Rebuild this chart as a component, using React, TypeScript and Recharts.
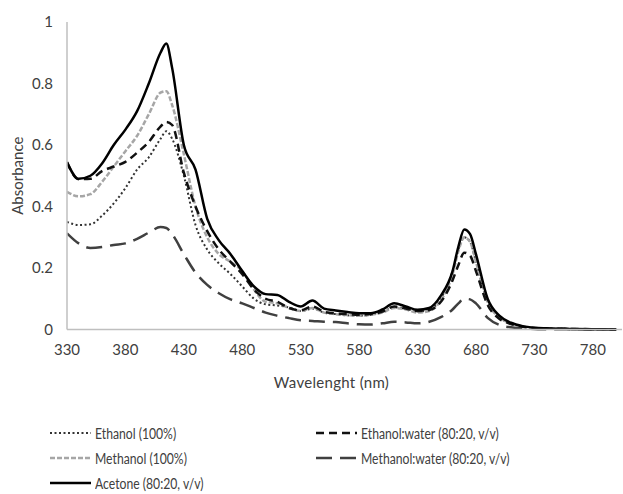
import { Line, LineChart, XAxis, YAxis } from "recharts";

const wavelengths = [
  330, 340, 350, 360, 370, 380, 390, 400, 410, 415, 420, 430, 440, 450, 460,
  470, 480, 490, 500, 510, 520, 530, 540, 550, 560, 570, 580, 590, 600, 610,
  620, 630, 640, 650, 660, 665, 670, 675, 680, 690, 700, 710, 720, 730, 740,
  760, 780, 800,
];

const ethanol = [
  0.35, 0.34, 0.342, 0.37, 0.41, 0.46, 0.52, 0.56, 0.62, 0.645, 0.62, 0.5,
  0.34, 0.26, 0.215, 0.18, 0.14, 0.1, 0.082, 0.078, 0.072, 0.06, 0.068, 0.055,
  0.05, 0.046, 0.045, 0.048, 0.058, 0.072, 0.068, 0.058, 0.065, 0.1, 0.19,
  0.26, 0.3, 0.285, 0.22, 0.09, 0.04, 0.02, 0.01, 0.005, 0.003, 0.002, 0.001, 0,
];

const ethanolWater = [
  0.543, 0.489, 0.49, 0.515, 0.53, 0.545, 0.575, 0.61, 0.66, 0.675, 0.665, 0.51,
  0.4, 0.32, 0.26, 0.22, 0.18, 0.13, 0.1, 0.09, 0.07, 0.062, 0.075, 0.058,
  0.052, 0.05, 0.048, 0.05, 0.058, 0.075, 0.068, 0.06, 0.063, 0.09, 0.16, 0.21,
  0.25, 0.24, 0.19, 0.08, 0.035, 0.018, 0.009, 0.005, 0.003, 0.002, 0.001, 0,
];

const methanol = [
  0.448, 0.433, 0.44, 0.48, 0.53, 0.58, 0.63, 0.7, 0.77, 0.775, 0.73, 0.57, 0.4,
  0.3, 0.245, 0.22, 0.19, 0.13, 0.09, 0.085, 0.07, 0.06, 0.07, 0.055, 0.05,
  0.047, 0.045, 0.048, 0.055, 0.07, 0.065, 0.055, 0.06, 0.095, 0.18, 0.255, 0.3,
  0.285, 0.22, 0.09, 0.04, 0.02, 0.01, 0.005, 0.003, 0.002, 0.001, 0,
];

const methanolWater = [
  0.313, 0.28, 0.265, 0.268, 0.275, 0.28, 0.295, 0.315, 0.333, 0.33, 0.31,
  0.245, 0.185, 0.145, 0.118, 0.098, 0.085, 0.07, 0.055, 0.045, 0.037, 0.03,
  0.028, 0.025, 0.024, 0.02, 0.017, 0.016, 0.02, 0.025, 0.023, 0.02, 0.025,
  0.04, 0.065, 0.085, 0.1, 0.098, 0.085, 0.038, 0.015, 0.007, 0.004, 0.002,
  0.001, 0.001, 0, 0,
];

const acetone = [
  0.545, 0.49, 0.5, 0.54, 0.6, 0.65, 0.71, 0.8, 0.9, 0.93, 0.85, 0.6, 0.52,
  0.36, 0.29, 0.245, 0.19, 0.14, 0.115, 0.112, 0.09, 0.075, 0.094, 0.068,
  0.062, 0.057, 0.053, 0.053, 0.065, 0.085, 0.075, 0.064, 0.07, 0.11, 0.19,
  0.27, 0.325, 0.31, 0.245, 0.1, 0.045, 0.022, 0.011, 0.006, 0.004, 0.002,
  0.001, 0,
];

const xTicks = [330, 380, 430, 480, 530, 580, 630, 680, 730, 780];
const yTicks = [0, 0.2, 0.4, 0.6, 0.8, 1];

const series = [
  { key: "ethanol", name: "Ethanol (100%)", values: ethanol, color: "#333333", dash: "2 2.5", width: 2 },
  { key: "ethanolWater", name: "Ethanol:water (80:20, v/v)", values: ethanolWater, color: "#111111", dash: "8 5", width: 2.5 },
  { key: "methanol", name: "Methanol (100%)", values: methanol, color: "#a6a6a6", dash: "5 2", width: 2.5 },
  { key: "methanolWater", name: "Methanol:water (80:20, v/v)", values: methanolWater, color: "#404040", dash: "16 8", width: 2.5 },
  { key: "acetone", name: "Acetone (80:20, v/v)", values: acetone, color: "#000000", dash: undefined, width: 2.5 },
];

const drawOrder = ["methanolWater", "ethanol", "methanol", "ethanolWater", "acetone"];

const data = wavelengths.map((w, i) => {
  const row: Record<string, number> = { w };
  series.forEach((s) => {
    row[s.key] = s.values[i];
  });
  return row;
});

const font = "Lato, 'Open Sans', sans-serif";
const textColor = "#404040";

// legend text in the original is a narrow face; Lato squeezed a bit
function LegendItem({ s, x, y }: { s: (typeof series)[number]; x: number; y: number }) {
  return (
    <div style={{ position: "absolute", left: x, top: y - 10, height: 20, display: "flex", alignItems: "center" }}>
      <svg width={42} height={20}>
        <line x1={0} y1={10} x2={41} y2={10} stroke={s.color} strokeWidth={s.width} strokeDasharray={s.dash} />
      </svg>
      <span
        style={{
          marginLeft: 3,
          fontSize: 14.5,
          color: textColor,
          fontFamily: font,
          whiteSpace: "nowrap",
          display: "inline-block",
          transform: "scaleX(0.84)",
          transformOrigin: "left center",
        }}
      >
        {s.name}
      </span>
    </div>
  );
}

export default function App() {
  const byKey = Object.fromEntries(series.map((s) => [s.key, s]));
  return (
    <div style={{ position: "absolute", left: 0, top: 0, width: 623, height: 494, background: "#fff" }}>
      <LineChart width={623} height={494} data={data} margin={{ top: 22, right: 1, left: 0, bottom: 104.5 }}>
        <XAxis
          dataKey="w"
          type="number"
          domain={[330, 805]}
          ticks={xTicks}
          allowDataOverflow
          tickLine={false}
          stroke="#bfbfbf"
          strokeWidth={1.5}
          height={60}
          tickMargin={9}
          tick={{ fill: textColor, fontSize: 15, fontFamily: font }}
          label={{
            value: "Wavelenght (nm)",
            position: "insideBottom",
            offset: 2,
            dx: -13,
            style: { fill: textColor, fontSize: 15, fontFamily: font, letterSpacing: 0.3 },
          }}
        />
        <YAxis
          type="number"
          domain={[0, 1]}
          ticks={yTicks}
          tickLine={false}
          stroke="#bfbfbf"
          strokeWidth={1.5}
          width={67}
          tickMargin={8}
          tick={{ fill: textColor, fontSize: 15, fontFamily: font }}
          label={{
            value: "Absorbance",
            angle: -90,
            position: "insideLeft",
            offset: 18,
            style: { fill: textColor, fontSize: 15, fontFamily: font, textAnchor: "middle" },
          }}
        />
        {drawOrder.map((k) => {
          const s = byKey[k];
          return (
            <Line
              key={k}
              dataKey={k}
              name={s.name}
              type="monotone"
              stroke={s.color}
              strokeWidth={s.width}
              strokeDasharray={s.dash}
              dot={false}
              isAnimationActive={false}
            />
          );
        })}
      </LineChart>
      <LegendItem s={series[0]} x={50} y={433} />
      <LegendItem s={series[1]} x={316} y={433} />
      <LegendItem s={series[2]} x={50} y={458} />
      <LegendItem s={series[3]} x={316} y={458} />
      <LegendItem s={series[4]} x={50} y={483} />
    </div>
  );
}
